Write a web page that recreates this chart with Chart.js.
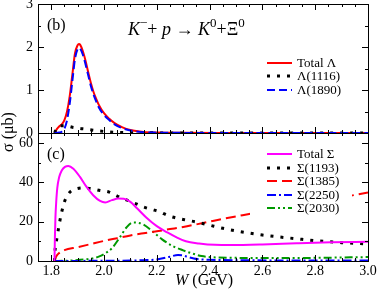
<!DOCTYPE html>
<html>
<head>
<meta charset="utf-8">
<script src="https://cdn.jsdelivr.net/npm/chart.js@4.4.1/dist/chart.umd.min.js"></script>
<style>
    html, body { margin: 0; padding: 0; background: #fff; }
    #wrap { position: relative; width: 377px; height: 291px; overflow: hidden; }
    #wrap canvas { position: absolute; left: 0; }
    #lambda-chart { top: -20px; }
    #sigma-chart { top: 0; }
</style>
</head>
<body>
<div id="wrap">
    <canvas id="sigma-chart" width="377" height="291"></canvas>
    <canvas id="lambda-chart" width="377" height="311"></canvas>
</div>
<script>
// axes
const wMin = 1.75, wMax = 3.0;
const wTicks = [1.8, 2.0, 2.2, 2.4, 2.6, 2.8, 3.0];
const lambdaTicks = [0, 1, 2, 3];
const sigmaTicks = [0, 20, 40, 60];

// panel (b): Lambda exchange, sigma in mub
const wLambda = [1.8125, 1.82, 1.83, 1.84, 1.85, 1.86, 1.87, 1.88, 1.89, 1.9, 1.905, 1.91, 1.92, 1.93,
    1.94, 1.95, 1.96, 1.97, 1.98, 2.0, 2.02, 2.04, 2.07, 2.1, 2.15, 2.2, 2.3, 2.5, 3.0];
const totalLambda = [0, 0.08, 0.15, 0.2, 0.3, 0.5, 0.85, 1.35, 1.85, 2.04, 2.07, 2.05, 1.9, 1.68,
    1.42, 1.17, 0.96, 0.8, 0.66, 0.46, 0.33, 0.23, 0.13, 0.07, 0.025, 0.01, 0.004, 0.002, 0.001];
const lambda1116 = [0, 0.1, 0.16, 0.17, 0.17, 0.165, 0.15, 0.135, 0.125, 0.115, 0.11, 0.105, 0.097, 0.09,
    0.083, 0.074, 0.065, 0.056, 0.048, 0.036, 0.026, 0.018, 0.011, 0.007, 0.004, 0.003, 0.002, 0.001, 0.001];
const lambda1890 = [0, 0, 0.01, 0.03, 0.1, 0.3, 0.68, 1.2, 1.72, 1.95, 1.98, 1.96, 1.82, 1.6,
    1.35, 1.1, 0.9, 0.74, 0.6, 0.42, 0.3, 0.2, 0.11, 0.06, 0.02, 0.008, 0.003, 0.001, 0];

// panel (c): Sigma exchange
const wTotalSigma = [1.8125, 1.814, 1.816, 1.819, 1.823, 1.83, 1.84, 1.852, 1.865, 1.884, 1.909, 1.934,
    1.959, 1.985, 2.005, 2.03, 2.055, 2.075, 2.1, 2.125, 2.16, 2.2, 2.24, 2.275, 2.31, 2.36, 2.42,
    2.48, 2.6, 2.73, 2.86, 3.0];
const totalSigma = [0, 12, 22, 30, 37, 42.5, 46, 47.8, 48.3, 46.9, 42.7, 37.6,
    33.4, 30.5, 29.7, 30.9, 31.7, 31.6, 30, 26.8, 22.1, 17.7, 14.5, 12, 10, 8.9, 8.2,
    8.1, 8.4, 9.0, 9.5, 9.8];

const wSigma1193 = [1.8125, 1.815, 1.821, 1.827, 1.833, 1.84, 1.85, 1.86, 1.875, 1.9, 1.925, 1.95,
    1.985, 2.02, 2.05, 2.085, 2.117, 2.148, 2.18, 2.21, 2.244, 2.275, 2.31, 2.35, 2.4, 2.45, 2.5,
    2.55, 2.6, 2.65, 2.7, 2.75, 2.8, 2.85, 2.9, 2.95, 3.0];
const sigma1193 = [0, 6, 11, 16, 20.5, 25, 30, 33, 35.5, 36.8, 37.1, 36.8,
    35.8, 35, 33, 31, 29.3, 27.5, 26.2, 25, 23, 21.8, 20.8, 19.8, 18.2, 16.6, 15.3,
    14.2, 13.2, 12.4, 11.7, 11, 10.3, 9.8, 9.3, 9, 8.6];

const wSigma1385 = [1.8125, 1.82, 1.83, 1.85, 1.9, 1.95, 2.0, 2.05, 2.1, 2.15, 2.2, 2.25, 2.3,
    2.35, 2.4, 2.45, 2.5, 2.55, 2.6, 2.7, 2.8, 2.9, 3.0];
const sigma1385 = [0, 2.5, 4, 5.5, 7, 8.6, 10.2, 11.6, 13, 14.1, 15.1, 16.2, 17.3,
    18.6, 20, 21.4, 22.6, 23.9, 25.1, 27.5, 29.9, 32.3, 34.8];

const wSigma2250 = [1.8125, 1.9, 2.0, 2.1, 2.15, 2.2, 2.25, 2.28, 2.3, 2.315, 2.34, 2.37, 2.4,
    2.5, 2.7, 3.0];
const sigma2250 = [0, 0.05, 0.1, 0.2, 0.4, 0.8, 2.2, 3.0, 2.8, 2.2, 1.3, 0.8, 0.6,
    0.4, 0.3, 0.3];

const wSigma2030 = [1.8125, 1.85, 1.9, 1.95, 1.98, 2.0, 2.03, 2.06, 2.085, 2.11, 2.13, 2.15, 2.18,
    2.22, 2.26, 2.3, 2.33, 2.37, 2.41, 2.5, 2.6, 2.8, 3.0];
const sigma2030 = [0, 0.1, 0.5, 1.2, 2.2, 3.5, 6.5, 12, 17, 19.6, 19.4, 18.5, 15.5,
    11, 7.6, 5.4, 4.0, 2.5, 1.9, 1.6, 1.5, 1.6, 2.0];

const FONT = "'Liberation Serif', 'Times New Roman', serif";
Chart.defaults.font.family = FONT;
Chart.defaults.font.size = 14;
Chart.defaults.color = "#000";

// the top canvas sits 20px above the page so its "3" label is not cut
const SHIFT = 20;

function points(xs, ys) {
    return xs.map((x, i) => ({ x: x, y: ys[i] }));
}

function line(label, xs, ys, color, dash, width, order) {
    return {
        label: label,
        data: points(xs, ys),
        borderColor: color,
        borderWidth: width,
        borderDash: dash,
        pointRadius: 0,
        fill: false,
        cubicInterpolationMode: "monotone",
        order: order,
    };
}

// inward ticks on all four sides plus the frame
function drawFrame(chart, yMinorStep, yMax) {
    const { ctx, chartArea: a, scales } = chart;
    const xs = scales.x, ys = scales.y;
    ctx.save();
    ctx.strokeStyle = "#000";
    ctx.lineWidth = 1;
    ctx.setLineDash([]);
    ctx.strokeRect(a.left + 0.5, a.top + 0.5, a.right - a.left, a.bottom - a.top);
    ctx.beginPath();
    for (let k = 36; k <= 60; k++) {
        const px = Math.round(xs.getPixelForValue(k * 0.05)) + 0.5;
        const len = k % 4 === 0 ? 6 : 3;
        ctx.moveTo(px, a.bottom); ctx.lineTo(px, a.bottom - len);
        ctx.moveTo(px, a.top); ctx.lineTo(px, a.top + len);
    }
    for (let k = 1; k * yMinorStep < yMax; k++) {
        const py = Math.round(ys.getPixelForValue(k * yMinorStep)) + 0.5;
        const len = k % 2 === 0 ? 6 : 3;
        ctx.moveTo(a.left, py); ctx.lineTo(a.left + len, py);
        ctx.moveTo(a.right, py); ctx.lineTo(a.right - len, py);
    }
    ctx.stroke();
    ctx.restore();
}

// y tick labels written from the scale's own ticks
function drawYLabels(chart) {
    const { ctx, scales } = chart;
    const ys = scales.y;
    ctx.save();
    ctx.font = "14px " + FONT;
    ctx.fillStyle = "#000";
    ctx.textAlign = "right";
    ctx.textBaseline = "middle";
    ys.ticks.forEach((t) => {
        ctx.fillText(String(t.value), ys.right - 5, ys.getPixelForValue(t.value));
    });
    ctx.restore();
}

function drawLegend(chart, box, firstY, gap) {
    const ctx = chart.ctx;
    ctx.save();
    ctx.fillStyle = "#fff";
    ctx.fillRect(box[0], box[1], box[2], box[3]);
    chart.data.datasets.forEach((ds, i) => {
        const yy = Math.round(firstY + i * gap);
        ctx.strokeStyle = ds.borderColor;
        ctx.lineWidth = ds.borderWidth;
        ctx.setLineDash(ds.borderDash);
        ctx.beginPath();
        ctx.moveTo(267, yy);
        ctx.lineTo(292, yy);
        ctx.stroke();
        ctx.fillStyle = "#000";
        ctx.font = "13px " + FONT;
        ctx.textBaseline = "middle";
        ctx.fillText(ds.label, 297, yy + 1);
    });
    ctx.restore();
}

// text made of pieces: [text, italic, superscript]
function drawRich(ctx, x, y, parts, size) {
    ctx.save();
    ctx.fillStyle = "#000";
    ctx.textBaseline = "alphabetic";
    parts.forEach(([t, it, sup]) => {
        const s = sup ? Math.round(size * 0.7) : size;
        ctx.font = (it ? "italic " : "") + s + "px " + FONT;
        ctx.fillText(t, x, sup ? y - size * 0.42 : y);
        x += ctx.measureText(t).width;
    });
    ctx.restore();
}

function xScale(showLabels) {
    return {
        type: "linear",
        min: wMin,
        max: wMax,
        display: showLabels,
        grid: { display: false, drawTicks: false },
        border: { display: false },
        afterBuildTicks: (s) => { s.ticks = wTicks.map((v) => ({ value: v })); },
        ticks: {
            padding: 2,
            autoSkip: false,
            maxRotation: 0,
            callback: (v) => v.toFixed(1),
        },
        afterFit: (s) => {
            s.height = showLabels ? 30 : 0;
            s.paddingLeft = 0; s.paddingRight = 0;
        },
    };
}

function yScale(max, tickValues, showLabels) {
    return {
        type: "linear",
        min: 0,
        max: max,
        grid: { display: false, drawTicks: false },
        border: { display: false },
        afterBuildTicks: (s) => { s.ticks = tickValues.map((v) => ({ value: v })); },
        ticks: { display: showLabels, padding: 5, autoSkip: false },
        afterFit: (s) => {
            s.width = 38;
            s.paddingTop = 0; s.paddingBottom = 0;
        },
    };
}

new Chart(document.getElementById("lambda-chart"), {
    type: "line",
    data: {
        datasets: [
            line("Total \u039b", wLambda, totalLambda, "#ff0000", [], 2, 3),
            line("\u039b(1116)", wLambda, lambda1116, "#000000", [3, 7], 3, 2),
            line("\u039b(1890)", wLambda, lambda1890, "#0000ff", [8, 4], 2, 1),
        ],
    },
    options: {
        responsive: false,
        animation: false,
        devicePixelRatio: 1,
        layout: { padding: { top: 4 + SHIFT, right: 9, bottom: 158, left: 0 } },
        plugins: { legend: { display: false }, tooltip: { enabled: false } },
        scales: { x: xScale(false), y: yScale(3, lambdaTicks, false) },
    },
    plugins: [{
        id: "decor",
        afterDatasetsDraw(chart) {
            drawLegend(chart, [250, 54 + SHIFT, 100, 44], 62.5 + SHIFT, 13.5);
            drawFrame(chart, 0.5, 3);
            drawYLabels(chart);
            const ctx = chart.ctx;
            ctx.save();
            ctx.font = "16px " + FONT;
            ctx.fillStyle = "#000";
            ctx.textBaseline = "middle";
            ctx.fillText("(b)", 47, 26 + SHIFT);
            ctx.restore();
            drawRich(ctx, 128, 35 + SHIFT, [
                ["K", true], ["\u2212", false, true], ["+ ", false], ["p", true],
                [" \u2192 ", false], ["K", true], ["0", false, true], ["+", false],
                ["\u039e", false], ["0", false, true],
            ], 18);
        },
    }],
});

new Chart(document.getElementById("sigma-chart"), {
    type: "line",
    data: {
        datasets: [
            line("Total \u03a3", wTotalSigma, totalSigma, "#ff00ff", [], 2, 1),
            line("\u03a3(1193)", wSigma1193, sigma1193, "#000000", [3, 7], 3, 2),
            line("\u03a3(1385)", wSigma1385, sigma1385, "#ff0000", [10, 5], 2, 3),
            line("\u03a3(2250)", wSigma2250, sigma2250, "#0000ff", [9, 3, 2, 3], 2, 4),
            line("\u03a3(2030)", wSigma2030, sigma2030, "#009900", [8, 3, 2, 3, 2, 3], 2, 5),
        ],
    },
    options: {
        responsive: false,
        animation: false,
        devicePixelRatio: 1,
        layout: { padding: { top: 133, right: 9, bottom: 0, left: 0 } },
        plugins: { legend: { display: false }, tooltip: { enabled: false } },
        scales: { x: xScale(true), y: yScale(65, sigmaTicks, true) },
    },
    plugins: [{
        id: "decor",
        afterDatasetsDraw(chart) {
            drawLegend(chart, [250, 146, 102, 70], 154, 13.6);
            drawFrame(chart, 10, 65);
            const ctx = chart.ctx;
            ctx.save();
            ctx.font = "16px " + FONT;
            ctx.fillStyle = "#000";
            ctx.textBaseline = "middle";
            ctx.fillText("(c)", 47, 155);
            ctx.translate(9, 132);
            ctx.rotate(-Math.PI / 2);
            ctx.textAlign = "center";
            ctx.fillText("\u03c3 (\u03bcb)", 0, 0);
            ctx.restore();
            drawRich(ctx, 175, 285, [["W", true], [" (GeV)", false]], 16);
        },
    }],
});
</script>
</body>
</html>
